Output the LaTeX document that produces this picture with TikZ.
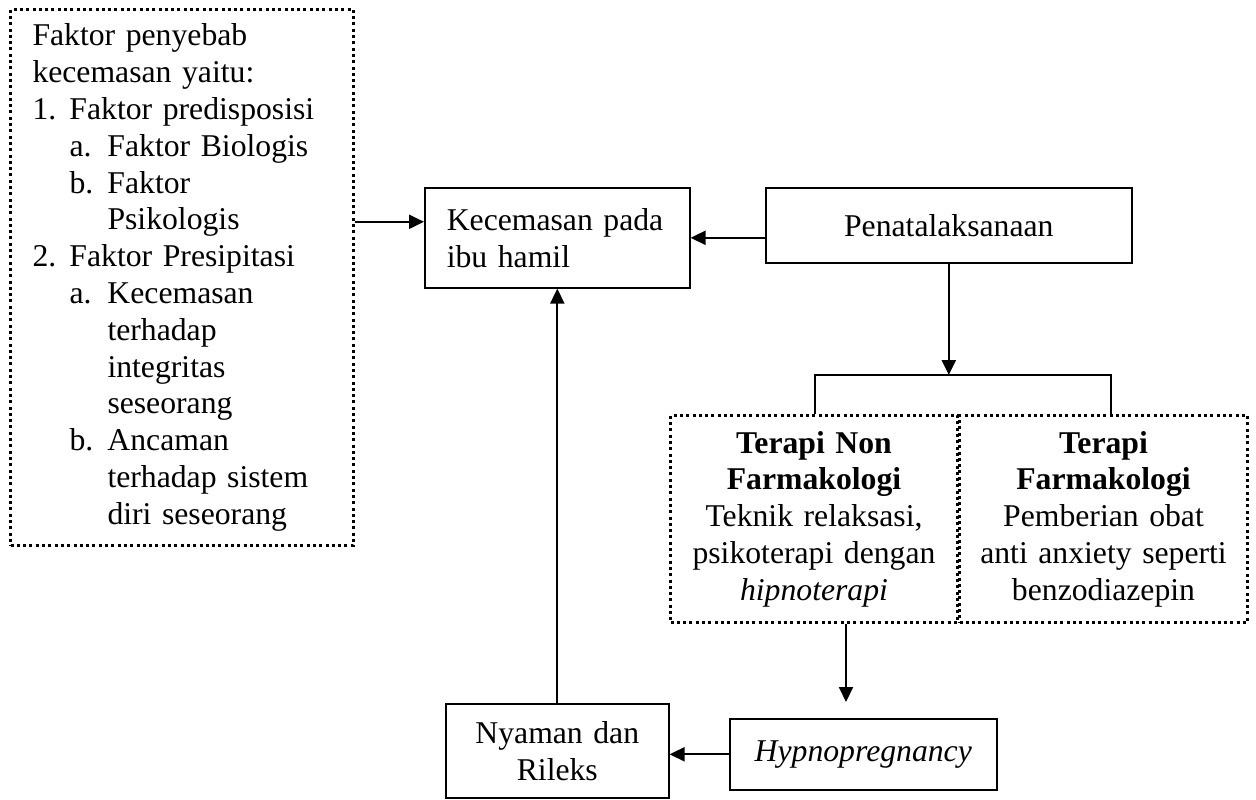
\documentclass[tikz,border=0pt]{standalone}
\usepackage{fontspec}
\setmainfont{Liberation Serif}
\usetikzlibrary{arrows.meta,positioning}

\begin{document}
\begin{tikzpicture}[x=1pt, y=-1pt,
    box/.style={draw, line width=1.6pt, inner sep=0pt, font=\fontsize{31.7}{36.8}\selectfont},
    dotbox/.style={box, line width=3pt, dash pattern=on 3pt off 3.3pt},
    arr/.style={line width=2.2pt, -{Triangle[length=15pt, width=14pt]}}]
    \useasboundingbox (0,0) rectangle (1256,800);

    % Faktor penyebab
    \node[dotbox, anchor=north west, minimum width=343pt, minimum height=536pt, text width=299pt, align=left] (faktor) at (9,8) {
        Faktor penyebab\\
        kecemasan yaitu:\\
        \makebox[37pt][l]{1.}Faktor predisposisi\\
        \hspace*{37pt}\makebox[38pt][l]{a.}Faktor Biologis\\
        \hspace*{37pt}\makebox[38pt][l]{b.}Faktor\\
        \hspace*{75pt}Psikologis\\
        \makebox[37pt][l]{2.}Faktor Presipitasi\\
        \hspace*{37pt}\makebox[38pt][l]{a.}Kecemasan\\
        \hspace*{75pt}terhadap\\
        \hspace*{75pt}integritas\\
        \hspace*{75pt}seseorang\\
        \hspace*{37pt}\makebox[38pt][l]{b.}Ancaman\\
        \hspace*{75pt}terhadap sistem\\
        \hspace*{75pt}diri seseorang};

    % Kotak utama
    \node[box, anchor=north west, minimum width=265pt, minimum height=100pt, text width=221pt, align=left] (kecemasan) at (424,187) {Kecemasan pada\\ ibu hamil};
    \node[box, anchor=north west, minimum width=366pt, minimum height=75pt, text width=330pt, align=center] (penata) at (765,187) {Penatalaksanaan};

    % Terapi
    \node[dotbox, anchor=north west, minimum width=287pt, minimum height=207pt, text width=270pt, align=center] (nonfarmako) at (669,414) {\textbf{Terapi Non}\\ \textbf{Farmakologi}\\ Teknik relaksasi,\\ psikoterapi dengan\\ \textit{hipnoterapi}};
    \node[dotbox, anchor=north west, minimum width=288pt, minimum height=207pt, text width=270pt, align=center] (farmako) at (958,414) {\textbf{Terapi}\\ \textbf{Farmakologi}\\ Pemberian obat\\ anti anxiety seperti\\ benzodiazepin};

    % Hasil
    \node[box, anchor=north west, minimum width=267pt, minimum height=71pt, text width=250pt, align=center] (hypno) at (729,718) {\textit{Hypnopregnancy}};
    \node[box, anchor=north west, minimum width=223pt, minimum height=94pt, text width=210pt, align=center] (nyaman) at (445,703) {Nyaman dan\\ Rileks};

    % Panah
    \coordinate (cabangkiri) at (815,375);
    \coordinate (cabangkanan) at (1111,375);
    \coordinate (hypnomasuk) at (846,702);
    \draw[arr] ([yshift=16pt]kecemasan.west -| faktor.east) -- ([yshift=16pt]kecemasan.west);
    \draw[arr] (kecemasan.east -| penata.west) -- (kecemasan.east);
    \draw[arr] (penata.south) -- (penata.south |- cabangkiri);
    \draw[line width=1.6pt] (cabangkiri |- nonfarmako.north) -- (cabangkiri) -- (cabangkanan) -- (cabangkanan |- farmako.north);
    \draw[arr] (hypnomasuk |- nonfarmako.south) -- (hypnomasuk);
    \draw[arr] (hypno.west) -- (hypno.west -| nyaman.east);
    \draw[arr] (nyaman.north) -- (kecemasan.south);
\end{tikzpicture}
\end{document}
